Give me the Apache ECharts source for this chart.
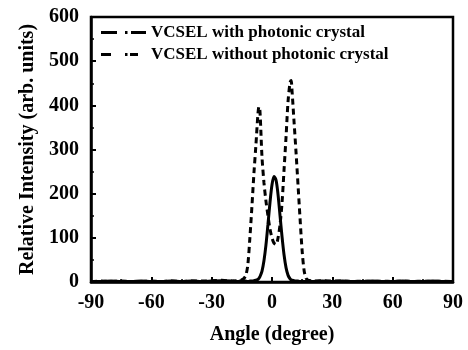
<!DOCTYPE html>
<html><head><meta charset="utf-8">
<script src="https://cdn.jsdelivr.net/npm/echarts@6/dist/echarts.min.js"></script>
<style>html,body{margin:0;padding:0;background:#fff}#c{width:468px;height:350px}</style>
</head><body><div id="c"></div>
<script>
var angles = [-90,-85,-80,-75,-70,-65,-60,-55,-50,-45,-40,-35,-30,-25,-20,-19,-18,-17,-16,-15,-14,-13,-12,-11,-10,-9,-8,-7,-6.5,-6,-5,-4,-3,-2,-1,0,1,2,3,4,5,6,7,8,9,9.5,10,11,12,13,14,15,16,17,18,19,20,25,30,35,40,45,50,55,60,65,70,75,80,85,90];
var withPC = [1,1,2,1,1,2,1,1,2,1,2,1,2,3,2,1,2,1,2,1,2,2,1,2,2,3,4,6,8,12,24,48,84,131,180,220,239,231,198,150,102,61,32,15,7,5,4,3,2,2,1,2,1,2,1,2,1,2,1,2,1,1,2,1,1,2,1,1,2,1,1];
var withoutPC = [1,2,1,2,1,1,2,1,2,1,2,2,3,4,2,3,2,3,3,5,8,15,40,100,170,245,310,380,397,388,285,225,183,150,120,100,88,85,100,130,180,255,330,410,452,456,430,360,290,215,140,70,25,8,4,3,2,3,2,2,1,2,1,2,1,2,1,2,1,2,1];
var xTicks = [-90,-60,-30,0,30,60,90];
var yTicks = [0,100,200,300,400,500,600];
var seriesNames = ['VCSEL with photonic crystal','VCSEL without photonic crystal'];

var FONT = '"Liberation Serif","Times New Roman",serif';
function pairs(v){ return angles.map(function(a,i){ return [a, v[i]]; }); }
var chart = echarts.init(document.getElementById('c'), null, {renderer:'canvas'});
chart.setOption({
  animation:false,
  grid:{left:91,right:15,top:17,bottom:64,show:true,borderColor:'#000',borderWidth:2.5},
  legend:{
    orient:'vertical', left:101, top:24, padding:0, itemWidth:45, itemHeight:3, itemGap:5,
    textStyle:{fontFamily:FONT,fontWeight:'bold',fontSize:17,color:'#000'},
    data:[
      {name:seriesNames[0], icon:'path://M0,0h16v3h-16zM24,0h2.5v3h-2.5zM30,0h15v3h-15z'},
      {name:seriesNames[1], icon:'path://M0,0h10v3h-10zM24,0h2.5v3h-2.5zM29,0h8v3h-8zM44.95,1.49h0.05v0.02h-0.05z'}
    ]
  },
  xAxis:{
    type:'value', min:-90, max:90, interval:30,
    name:'Angle (degree)', nameLocation:'middle', nameGap:43,
    nameTextStyle:{fontFamily:FONT,fontWeight:'bold',fontSize:20,color:'#000'},
    axisLine:{onZero:false,lineStyle:{color:'#000',width:2.5}},
    axisTick:{inside:true,length:5,lineStyle:{color:'#000',width:2}},
    minorTick:{show:true,splitNumber:2,length:3,lineStyle:{color:'#000',width:1.5}},
    splitLine:{show:false},
    axisLabel:{margin:11,fontFamily:FONT,fontWeight:'bold',fontSize:20,color:'#000',
      formatter:function(v){return xTicks.indexOf(v)>=0?String(v):'';}}
  },
  yAxis:{
    type:'value', min:0, max:600, interval:100,
    name:'Relative Intensity (arb. units)', nameLocation:'middle', nameGap:45,
    nameTextStyle:{fontFamily:FONT,fontWeight:'bold',fontSize:20,color:'#000'},
    axisLine:{show:true,onZero:false,lineStyle:{color:'#000',width:2.5}},
    axisTick:{show:true,inside:true,length:5,lineStyle:{color:'#000',width:2}},
    minorTick:{show:true,splitNumber:2,length:3,lineStyle:{color:'#000',width:1.5}},
    splitLine:{show:false},
    axisLabel:{margin:12,fontFamily:FONT,fontWeight:'bold',fontSize:20,color:'#000',
      formatter:function(v){return yTicks.indexOf(v)>=0?String(v):'';}}
  },
  series:[
    {name:seriesNames[0],type:'line',data:pairs(withPC),smooth:0.3,symbol:'none',
     lineStyle:{color:'#000',width:3,type:'solid'},itemStyle:{color:'#000'}},
    {name:seriesNames[1],type:'line',data:pairs(withoutPC),smooth:0.3,symbol:'none',
     lineStyle:{color:'#000',width:3,type:[6,4]},itemStyle:{color:'#000'}}
  ]
});
</script></body></html>
